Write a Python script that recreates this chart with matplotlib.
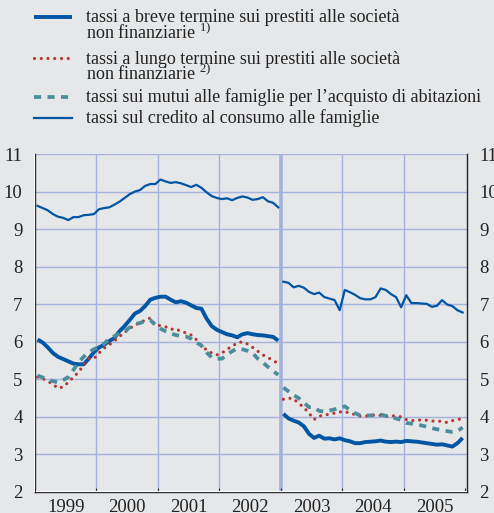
import numpy as np
import matplotlib
matplotlib.use("Agg")
import matplotlib.pyplot as plt
from matplotlib.lines import Line2D

plt.rcParams['font.family'] = ['Liberation Serif', 'DejaVu Serif']
plt.rcParams['mathtext.fontset'] = 'custom'
plt.rcParams['mathtext.rm'] = 'Liberation Serif'

# monthly data, Jan 1999 - Dec 2002 (old series) and Jan 2003 - Dec 2005 (new series)
breve_old = [6.06, 5.98, 5.85, 5.70, 5.60, 5.54, 5.48, 5.42, 5.40, 5.40, 5.55, 5.72,
             5.85, 5.92, 6.02, 6.10, 6.28, 6.42, 6.58, 6.75, 6.82, 6.95, 7.12, 7.17,
             7.20, 7.20, 7.12, 7.05, 7.08, 7.04, 6.97, 6.90, 6.88, 6.62, 6.42, 6.32,
             6.26, 6.20, 6.17, 6.12, 6.20, 6.23, 6.20, 6.18, 6.17, 6.15, 6.13, 6.03]
breve_new = [4.08, 3.96, 3.90, 3.85, 3.75, 3.55, 3.44, 3.50, 3.42, 3.43, 3.40, 3.43,
             3.38, 3.35, 3.30, 3.30, 3.33, 3.34, 3.35, 3.37, 3.34, 3.33, 3.34, 3.33,
             3.36, 3.35, 3.34, 3.32, 3.30, 3.28, 3.26, 3.27, 3.24, 3.21, 3.30, 3.44]
lungo_old = [5.06, 5.02, 4.95, 4.87, 4.76, 4.80, 4.92, 5.06, 5.19, 5.38, 5.55, 5.55,
             5.70, 5.83, 5.92, 6.02, 6.14, 6.25, 6.35, 6.45, 6.50, 6.58, 6.63, 6.45,
             6.43, 6.40, 6.33, 6.35, 6.27, 6.24, 6.18, 6.06, 5.90, 5.78, 5.70, 5.65,
             5.70, 5.80, 5.88, 5.97, 6.00, 5.94, 5.85, 5.75, 5.65, 5.58, 5.50, 5.42]
lungo_new = [4.47, 4.50, 4.48, 4.36, 4.25, 4.10, 3.93, 4.02, 4.05, 4.07, 4.10, 4.13,
             4.14, 4.10, 4.06, 4.02, 4.02, 4.04, 4.05, 4.04, 4.01, 4.03, 4.02, 4.00,
             3.93, 3.90, 3.91, 3.92, 3.91, 3.89, 3.89, 3.88, 3.85, 3.90, 3.92, 3.97]
mutui_old = [5.10, 5.05, 5.00, 4.95, 4.92, 4.98, 5.06, 5.25, 5.45, 5.60, 5.72, 5.80,
             5.86, 5.95, 6.08, 6.15, 6.22, 6.28, 6.38, 6.47, 6.50, 6.55, 6.58, 6.45,
             6.35, 6.28, 6.22, 6.18, 6.15, 6.14, 6.08, 5.98, 5.90, 5.72, 5.58, 5.55,
             5.55, 5.65, 5.75, 5.82, 5.80, 5.76, 5.70, 5.55, 5.45, 5.33, 5.22, 5.12]
mutui_new = [4.78, 4.68, 4.58, 4.50, 4.38, 4.26, 4.25, 4.16, 4.14, 4.17, 4.20, 4.24,
             4.28, 4.18, 4.10, 4.04, 4.04, 4.04, 4.05, 4.06, 4.03, 4.00, 3.96, 3.92,
             3.84, 3.82, 3.80, 3.77, 3.74, 3.70, 3.67, 3.65, 3.62, 3.60, 3.62, 3.72]
consumo_old = [9.62, 9.56, 9.50, 9.40, 9.33, 9.30, 9.24, 9.32, 9.32, 9.37, 9.38, 9.40,
               9.53, 9.56, 9.58, 9.65, 9.73, 9.83, 9.93, 10.00, 10.04, 10.15, 10.20, 10.20,
               10.32, 10.27, 10.23, 10.25, 10.22, 10.17, 10.12, 10.18, 10.10, 9.98, 9.88, 9.83,
               9.80, 9.82, 9.77, 9.83, 9.87, 9.84, 9.78, 9.80, 9.85, 9.74, 9.70, 9.58]
consumo_new = [7.60, 7.57, 7.45, 7.49, 7.44, 7.33, 7.27, 7.31, 7.19, 7.15, 7.11, 6.84,
               7.38, 7.32, 7.25, 7.16, 7.13, 7.13, 7.19, 7.42, 7.38, 7.27, 7.19, 6.92,
               7.24, 7.03, 7.03, 7.02, 7.01, 6.93, 6.96, 7.11, 6.99, 6.95, 6.84, 6.78]

years = [1999, 2000, 2001, 2002, 2003, 2004, 2005]
labels = [["tassi a breve termine sui prestiti alle società", "non finanziarie $^{1)}$"],
          ["tassi a lungo termine sui prestiti alle società", "non finanziarie $^{2)}$"],
          ["tassi sui mutui alle famiglie per l\u2019acquisto di abitazioni"],
          ["tassi sul credito al consumo alle famiglie"]]

x_old = 1999 + (np.arange(48) + 0.5) / 12
x_new = 2003 + (np.arange(36) + 0.5) / 12

bg = '#e6e7e9'
blue = '#0055a4'
red = '#b5372e'
teal = '#4a8e9c'
grid = '#a4b2dc'

fig = plt.figure(figsize=(4.94, 5.13), dpi=100, facecolor=bg)
ax = fig.add_axes([35 / 494, 1 - 492 / 513, 432 / 494, 338 / 513])
ax.set_facecolor(bg)

styles = [
    dict(color=blue, lw=2.8, solid_capstyle='butt'),
    dict(color=red, lw=2.3, linestyle=(0, (0.01, 2.1)), dash_capstyle='round'),
    dict(color=teal, lw=2.7, linestyle=(0, (1.9, 1.7)), dash_capstyle='butt'),
    dict(color=blue, lw=1.6),
]
series = [(breve_old, breve_new), (lungo_old, lungo_new),
          (mutui_old, mutui_new), (consumo_old, consumo_new)]
for (old, new), st in zip(series, styles):
    ax.plot(x_old, old, **st, zorder=3)
    ax.plot(x_new, new, **st, zorder=3)

ax.set_xlim(1999, 2006.03)
ax.set_ylim(2, 11)
ax.set_yticks(range(2, 12))
ax.set_xticks(years[1:] + [2006])
ax.set_xticklabels([])
ax.set_xticks([y + 0.5 for y in years], minor=True)
ax.set_xticklabels([str(y) for y in years], minor=True)
ax.tick_params(axis='x', which='major', direction='in', length=3, color='#333333')
ax.tick_params(axis='x', which='minor', length=0, labelsize=13.5, pad=5)
ax.tick_params(axis='y', length=0, labelsize=13.5, pad=9, labelright=True, right=False)
for t in ax.xaxis.get_ticklabels(which='both') + ax.yaxis.get_ticklabels(which='both'):
    t.set_color('#222222')

for v in range(2, 12):
    ax.axhline(v, color=grid, lw=1.0, zorder=1)
for y in years[1:]:
    ax.axvline(y, color=grid, lw=2.6 if y == 2003 else 1.0, zorder=1)

for side in ['left', 'right', 'bottom']:
    ax.spines[side].set_color('#222222')
    ax.spines[side].set_linewidth(1.0)
ax.spines['top'].set_visible(False)

# thin white edges next to the left and bottom axis lines
fig.add_artist(Line2D([33.5 / 494, 33.5 / 494], [1 - 154 / 513, 1 - 491 / 513],
                      transform=fig.transFigure, color='white', lw=0.8))
fig.add_artist(Line2D([36 / 494, 466 / 494], [1 - 490.5 / 513, 1 - 490.5 / 513],
                      transform=fig.transFigure, color='white', lw=0.8, zorder=5))

# legend
handle_rows = [17, 58, 97, 118]
text_rows = [[22.5, 39], [63.5, 80], [102], [123]]
for lab, st, r, trs in zip(labels, styles, handle_rows, text_rows):
    yy = 1 - r / 513
    fig.add_artist(Line2D([34 / 494, 72 / 494], [yy, yy], transform=fig.transFigure, **st))
    for line, tr in zip(lab, trs):
        fig.text(86 / 494, 1 - tr / 513, line, fontsize=13, va='baseline',
                 color='#222222', transform=fig.transFigure)

fig.savefig("out.png", dpi=100, facecolor=bg)
